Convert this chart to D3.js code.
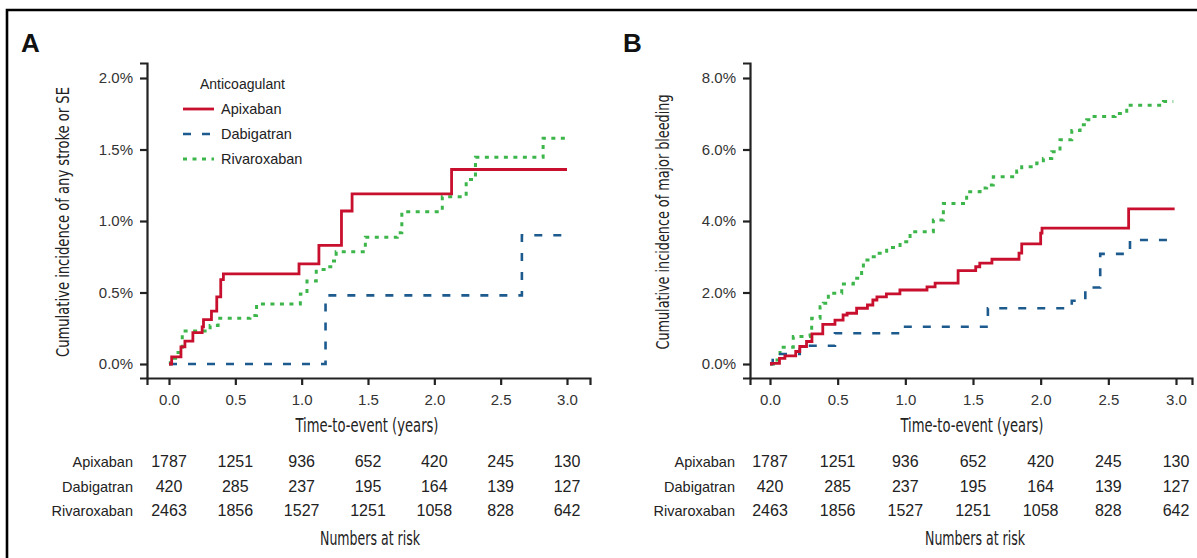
<!DOCTYPE html>
<html><head><meta charset="utf-8">
<script src="https://cdn.jsdelivr.net/npm/d3@7"></script>
<style>
body{margin:0;background:#fff;}
svg{display:block;}
.tk text{font-family:"Liberation Sans",Arial,sans-serif;font-size:15px;fill:#333;}
</style></head>
<body>
<svg id="c" width="1197" height="558"></svg>
<script>
// ---------- DATA ----------
const seriesNames = ["Apixaban","Dabigatran","Rivaroxaban"];
const riskTimes = [0,0.5,1,1.5,2,2.5,3];
const riskApixaban   = [1787,1251,936,652,420,245,130];
const riskDabigatran = [420,285,237,195,164,139,127];
const riskRivaroxaban= [2463,1856,1527,1251,1058,828,642];

// Panel A: stroke or SE (time in years, cumulative incidence %)
const aApixT = [0,0.02,0.09,0.12,0.18,0.25,0.26,0.32,0.36,0.39,0.41,0.98,1.13,1.30,1.38,2.13,3.0];
const aApixV = [0,0.05,0.12,0.16,0.22,0.26,0.31,0.37,0.47,0.59,0.63,0.70,0.83,1.07,1.19,1.36,1.36];
const aDabiT = [0,1.18,2.66,2.97];
const aDabiV = [0,0.48,0.90,0.90];
const aRivaT = [0,0.01,0.05,0.10,0.31,0.37,0.61,0.66,0.99,1.04,1.11,1.19,1.24,1.26,1.48,1.72,1.755,2.06,2.24,2.31,2.82,2.99];
const aRivaV = [0,0.04,0.08,0.23,0.27,0.32,0.34,0.42,0.49,0.58,0.66,0.68,0.72,0.785,0.886,0.918,1.065,1.17,1.29,1.445,1.578,1.578];

// Panel B: major bleeding
const bApixT = [0,0.01,0.07,0.11,0.19,0.22,0.27,0.31,0.39,0.48,0.54,0.57,0.64,0.72,0.76,0.79,0.86,0.96,1.16,1.22,1.39,1.52,1.55,1.64,1.84,1.86,2.00,2.01,2.65,2.99];
const bApixV = [0,0.02,0.16,0.23,0.35,0.49,0.63,0.84,1.11,1.23,1.37,1.42,1.56,1.65,1.79,1.88,1.96,2.07,2.16,2.26,2.61,2.72,2.82,2.93,3.10,3.36,3.66,3.80,4.34,4.34];
const bDabiT = [0,0.02,0.22,0.48,0.96,1.61,2.23,2.33,2.44,2.66,2.98];
const bDabiV = [0,0.28,0.51,0.86,1.04,1.56,1.77,2.14,3.08,3.47,3.47];
const bRivaT = [0,0.025,0.074,0.172,0.296,0.308,0.37,0.394,0.431,0.53,0.616,0.677,0.69,0.751,0.788,0.862,0.961,1.035,1.207,1.281,1.453,1.552,1.601,1.65,1.823,1.86,1.971,2.02,2.082,2.143,2.23,2.291,2.34,2.377,2.55,2.636,2.907,2.98];
const bRivaV = [0,0.11,0.47,0.77,0.95,1.28,1.60,1.70,1.98,2.24,2.40,2.63,2.91,3.00,3.10,3.26,3.42,3.70,4.03,4.49,4.82,4.92,5.01,5.24,5.40,5.52,5.62,5.75,5.94,6.27,6.53,6.69,6.83,6.92,7.01,7.24,7.34,7.34];

const xTicks = [0,0.5,1,1.5,2,2.5,3];
const yTicksA = [0,0.5,1,1.5,2];
const yTicksB = [0,2,4,6,8];

// ---------- STYLE ----------
const colors = {Apixaban:"#c8102e", Dabigatran:"#1d5a8e", Rivaroxaban:"#3cb54a"};
const dashes = {Apixaban:null, Dabigatran:"8,11", Rivaroxaban:"4,5.5"};
const widths = {Apixaban:2.8, Dabigatran:2.6, Rivaroxaban:3};
const narrow = "'Liberation Sans Narrow','DejaVu Sans Condensed',Arial,sans-serif";
const sans = "'Liberation Sans',Arial,sans-serif";

const svg = d3.select("#c");
// outer frame
svg.append("path").attr("d","M7,560 L7,10 L1199,10").attr("fill","none").attr("stroke","#000").attr("stroke-width",2.6);

function zip(t,v){return t.map((d,i)=>({t:d,v:v[i]}));}

const panels = [
  {letter:"A", lx:21, ax:147, x0:169, x3:567, xEnd:590, yMaxTick:2, yTicks:yTicksA,
   ytitle:"Cumulative incidence of any stroke or SE", ytx:68, ytLen:270,
   series:{Apixaban:zip(aApixT,aApixV),Dabigatran:zip(aDabiT,aDabiV),Rivaroxaban:zip(aRivaT,aRivaV)},
   legend:true, rowLabelX:133},
  {letter:"B", lx:623, ax:750, x0:770, x3:1176, xEnd:1192, yMaxTick:8, yTicks:yTicksB,
   ytitle:"Cumulative incidence of major bleeding", ytx:668, ytLen:255,
   series:{Apixaban:zip(bApixT,bApixV),Dabigatran:zip(bDabiT,bDabiV),Rivaroxaban:zip(bRivaT,bRivaV)},
   legend:false, rowLabelX:735}
];

const yZero = 364, yTop = 78, axisY = 378, axisTop = 63;
const risks = [riskApixaban, riskDabigatran, riskRivaroxaban];

panels.forEach(p=>{
  const g = svg.append("g");
  const k = (p.x3-p.x0)/3;
  const x = d3.scaleLinear().domain([(p.ax-p.x0)/k,(p.xEnd-p.x0)/k]).range([p.ax,p.xEnd]);
  const ky = (yZero-yTop)/p.yMaxTick;
  const y = d3.scaleLinear().domain([(yZero-axisY)/ky,(yZero-axisTop)/ky]).range([axisY,axisTop]);

  // letter
  g.append("text").attr("x",p.lx).attr("y",52).text(p.letter)
    .style("font-family",sans).style("font-weight","bold").style("font-size","26px").attr("fill","#111");

  // axes
  const xa = g.append("g").attr("class","tk").attr("transform",`translate(0,${axisY})`)
    .call(d3.axisBottom(x).tickValues(xTicks).tickSizeOuter(0).tickSize(7).tickPadding(9).tickFormat(d3.format(".1f")));
  const ya = g.append("g").attr("class","tk").attr("transform",`translate(${p.ax},0)`)
    .call(d3.axisLeft(y).tickValues(p.yTicks).tickSizeOuter(0).tickSize(7).tickPadding(7).tickFormat(d=>d3.format(".1f")(d)+"%"));
  [xa,ya].forEach(a=>{a.selectAll("path,line").attr("stroke","#222").attr("stroke-width",2.2);});
  xa.selectAll("text").attr("dy","0.71em");

  // axis titles
  g.append("text").attr("x",(p.x0+p.x3)/2-1).attr("y",432).attr("text-anchor","middle")
    .attr("textLength",143).attr("lengthAdjust","spacingAndGlyphs")
    .text("Time-to-event (years)").style("font-family",narrow).style("font-size","19.5px").attr("fill","#222");
  g.append("text").attr("transform",`translate(${p.ytx+1},${(yZero+yTop)/2+1}) rotate(-90)`).attr("text-anchor","middle")
    .attr("textLength",p.ytLen).attr("lengthAdjust","spacingAndGlyphs")
    .text(p.ytitle).style("font-family",narrow).style("font-size","18.5px").attr("fill","#222");

  // curves
  const line = d3.line().x(d=>x(d.t)).y(d=>y(d.v)).curve(d3.curveStepAfter);
  ["Rivaroxaban","Dabigatran","Apixaban"].forEach(n=>{
    g.append("path").datum(p.series[n]).attr("d",line).attr("fill","none")
      .attr("stroke",colors[n]).attr("stroke-width",widths[n])
      .attr("stroke-dasharray",dashes[n]).attr("stroke-linejoin","miter");
  });

  // legend
  if(p.legend){
    g.append("text").attr("x",200).attr("y",89).text("Anticoagulant")
      .style("font-family",sans).style("font-size","14px").attr("fill","#222");
    seriesNames.forEach((n,i)=>{
      const ly = 109 + i*25;
      g.append("line").attr("x1",183).attr("x2",214).attr("y1",ly).attr("y2",ly)
        .attr("stroke",colors[n]).attr("stroke-width",widths[n]).attr("stroke-dasharray",dashes[n]);
      g.append("text").attr("x",221).attr("y",ly+5).text(n)
        .style("font-family",sans).style("font-size","14.5px").attr("fill","#222");
    });
  }

  // risk table
  seriesNames.forEach((n,i)=>{
    const ry = 467 + i*24.5;
    g.append("text").attr("x",p.rowLabelX).attr("y",ry).attr("text-anchor","end").text(n)
      .style("font-family",sans).style("font-size","14.5px").attr("fill","#222");
    riskTimes.forEach((t,j)=>{
      g.append("text").attr("x",x(t)).attr("y",ry).attr("text-anchor","middle").text(risks[i][j])
        .style("font-family",sans).style("font-size","16px").attr("fill","#222");
    });
  });
  g.append("text").attr("x",(p.x0+p.x3)/2+2).attr("y",545).attr("text-anchor","middle")
    .attr("textLength",100).attr("lengthAdjust","spacingAndGlyphs")
    .text("Numbers at risk").style("font-family",narrow).style("font-size","19.5px").attr("fill","#222");
});
</script>
</body></html>
